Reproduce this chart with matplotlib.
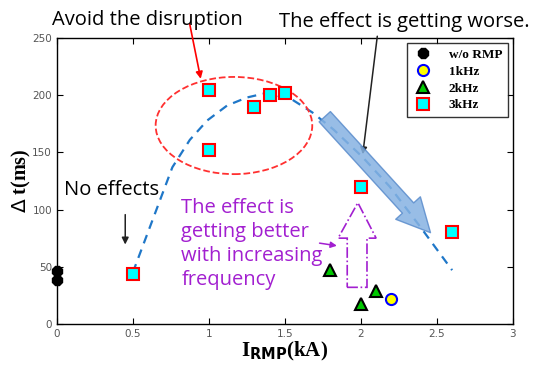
import numpy as np
import matplotlib.pyplot as plt
from matplotlib.patches import Ellipse, Polygon

# measured points
rmp_x = [0, 0]
rmp_y = [46, 38]
k1_x = [2.2]
k1_y = [22]
k2_x = [1.8, 2.0, 2.1]
k2_y = [47, 17, 29]
k3_x = [0.5, 1.0, 1.0, 1.3, 1.4, 1.5, 2.0, 2.6]
k3_y = [44, 205, 152, 190, 200, 202, 120, 80]

# dashed trend curve
fit_x = [0.5, 0.63, 0.76, 0.875, 0.99, 1.12, 1.25, 1.38, 1.55, 1.68, 1.82, 2.01, 2.19, 2.39, 2.6]
fit_y = [45, 91, 137, 161, 178, 191, 198, 202, 196, 185, 170, 146, 120, 85, 47]

xticks = [0, 0.5, 1, 1.5, 2, 2.5, 3]
yticks = [0, 50, 100, 150, 200, 250]

ann_font = 'Open Sans'
serif = 'Liberation Serif'
purple = '#a21fd0'

fig = plt.figure(figsize=(5.36, 3.66), dpi=100)
ax = fig.add_axes([0.106, 0.115, 0.851, 0.781])

ax.plot(fit_x, fit_y, '--', color='#1f77c8', lw=1.6, dashes=(4, 3), zorder=2)

ax.plot(rmp_x, rmp_y, '8', color='black', ms=8, ls='none', label='w/o RMP', clip_on=False, zorder=5)
ax.plot(k1_x, k1_y, 'o', mfc='yellow', mec='blue', mew=1.5, ms=8, ls='none', label='1kHz', zorder=5)
ax.plot(k2_x, k2_y, '^', mfc='#00c800', mec='black', mew=1.5, ms=9, ls='none', label='2kHz', zorder=5)
ax.plot(k3_x, k3_y, 's', mfc='cyan', mec='red', mew=1.5, ms=8, ls='none', label='3kHz', zorder=5)

ax.set_xlim(0, 3)
ax.set_ylim(0, 250)
ax.set_xticks(xticks)
ax.set_xticklabels(['0', '0.5', '1', '1.5', '2', '2.5', '3'])
ax.set_yticks(yticks)
ax.tick_params(direction='in', top=True, right=True, labelsize=7.5, labelcolor='#555555', length=4)
for s in ax.spines.values():
    s.set_linewidth(1.0)

ax.set_ylabel(r'$\Delta$ t(ms)', fontsize=14.5, fontweight='bold', family=serif)
ax.yaxis.set_label_coords(-0.053, 0.5)
ax.set_xlabel(r'I$_{\mathbf{RMP}}$(kA)', fontsize=15, fontweight='bold', family=serif, labelpad=1)

leg = ax.legend(loc='upper right', prop={'family': serif, 'weight': 'bold', 'size': 9.5},
                frameon=True, fancybox=False, edgecolor='black', handletextpad=1.2,
                borderaxespad=0.4, labelspacing=0.35, handlelength=1.6)
leg.get_frame().set_linewidth(1.0)

# red dashed ellipse
ax.add_patch(Ellipse((1.165, 173.5), 1.03, 85, fill=False, ec='#ff3030', ls='--', lw=1.3, zorder=3))

# hollow dash-dot arrow
arrow_pts = [(1.91, 32), (2.04, 32), (2.04, 75), (2.10, 75), (1.98, 106), (1.85, 75), (1.91, 75)]
ax.add_patch(Polygon(arrow_pts, closed=True, fill=False, ec=purple, ls='-.', lw=1.2, zorder=3))

# fat blue arrow
ax.annotate('', xy=(2.47, 78), xytext=(1.75, 183),
            arrowprops=dict(arrowstyle='simple,head_width=1.2,head_length=1.2,tail_width=0.55',
                            fc='#86b2e2', ec='#5a8ccc', alpha=0.85, mutation_scale=20), zorder=4)

# text annotations
fig.text(0.275, 0.945, 'Avoid the disruption', fontsize=14.5, family=ann_font, ha='center', va='center')
ax.annotate('', xy=(0.95, 212), xytext=(0.87, 265), annotation_clip=False,
            arrowprops=dict(arrowstyle='-|>', color='red', lw=1.2, mutation_scale=10))

fig.text(0.755, 0.94, 'The effect is getting worse.', fontsize=14.5, family=ann_font, ha='center', va='center')
ax.annotate('', xy=(2.01, 146), xytext=(2.11, 254), annotation_clip=False,
            arrowprops=dict(arrowstyle='-|>', color='#222222', lw=1.1, mutation_scale=10))

ax.text(0.05, 117, 'No effects', fontsize=14.5, family=ann_font, ha='left', va='center')
ax.annotate('', xy=(0.45, 67), xytext=(0.45, 98),
            arrowprops=dict(arrowstyle='-|>', color='#222222', lw=1.1, mutation_scale=10))

ax.text(0.82, 30, 'The effect is\ngetting better\nwith increasing\nfrequency', fontsize=14.5,
        family=ann_font, color=purple, ha='left', va='bottom', linespacing=1.25)
ax.annotate('', xy=(1.86, 68), xytext=(1.71, 71),
            arrowprops=dict(arrowstyle='-|>', color=purple, lw=1.1, mutation_scale=9))

fig.savefig('out.png', dpi=100)
